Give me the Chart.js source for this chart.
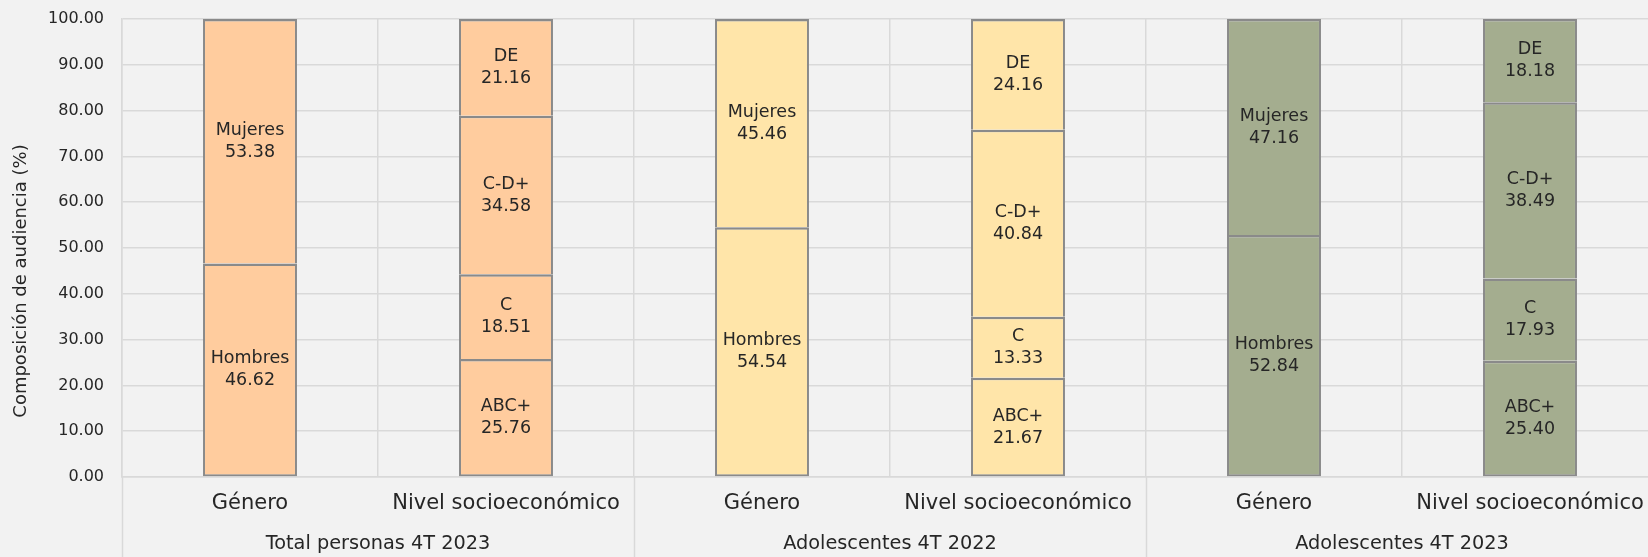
<!DOCTYPE html>
<html>
<head>
<meta charset="utf-8">
<script src="https://cdn.jsdelivr.net/npm/chart.js@4.4.1/dist/chart.umd.min.js"></script>
<style>
  html, body { margin: 0; padding: 0; background: #F2F2F2; overflow: hidden; }
  #wrap { position: relative; width: 1658px; height: 557px; }
</style>
</head>
<body>
<div id="wrap"><canvas id="c"></canvas></div>
<script>
const categories = ['Género', 'Nivel socioeconómico', 'Género', 'Nivel socioeconómico', 'Género', 'Nivel socioeconómico'];
const groups = ['Total personas 4T 2023', 'Adolescentes 4T 2022', 'Adolescentes 4T 2023'];
const generoNames = ['Hombres', 'Mujeres'];
const nseNames = ['ABC+', 'C', 'C-D+', 'DE'];
const seg1 = [46.62, 25.76, 54.54, 21.67, 52.84, 25.40];
const seg2 = [53.38, 18.51, 45.46, 13.33, 47.16, 17.93];
const seg3 = [null, 34.58, null, 40.84, null, 38.49];
const seg4 = [null, 21.16, null, 24.16, null, 18.18];
const yTitle = 'Composición de audiencia (%)';
const groupColors = ['#FFCC9E', '#FFE5A9', '#A4AD8F'];

const FONT = '"DejaVu Sans", sans-serif';
const TEXT = '#262626';
const GRID = '#D9D9D9';

const segs = [seg1, seg2, seg3, seg4];
const datasets = segs.map((d, k) => ({
  data: d,
  segIndex: k,
  backgroundColor: categories.map((c, i) => groupColors[Math.floor(i / 2)]),
  borderColor: '#8A8A8A',
  borderWidth: { top: 2.5, bottom: k === 0 ? 2 : 0, left: 2, right: 2 },
  borderSkipped: false,
  barPercentage: 0.367,
  categoryPercentage: 1.0
}));

const segName = (catIdx, k) => (catIdx % 2 === 0 ? generoNames[k] : nseNames[k]);

const labelsPlugin = {
  id: 'labelsPlugin',
  afterDatasetsDraw(chart) {
    const ctx = chart.ctx;
    ctx.save();
    ctx.fillStyle = TEXT;
    ctx.textAlign = 'center';
    ctx.textBaseline = 'middle';
    ctx.font = '17.5px ' + FONT;
    chart.data.datasets.forEach((ds, di) => {
      const meta = chart.getDatasetMeta(di);
      meta.data.forEach((el, i) => {
        const v = ds.data[i];
        if (v === null || v === undefined) return;
        const cy = (el.y + el.base) / 2;
        ctx.fillText(segName(i, ds.segIndex), el.x, cy - 11);
        ctx.fillText(v.toFixed(2), el.x, cy + 11);
      });
    });
    ctx.restore();
  },
  afterDraw(chart) {
    const ctx = chart.ctx;
    const xs = chart.scales.x;
    const area = chart.chartArea;
    const H = chart.height;
    ctx.save();
    ctx.strokeStyle = GRID;
    ctx.lineWidth = 1.5;
    const half = (xs.getPixelForValue(1) - xs.getPixelForValue(0)) / 2;
    const seps = [xs.getPixelForValue(0) - half];
    for (let g = 0; g < groups.length; g++) seps.push(xs.getPixelForValue(2 * g + 1) + half);
    seps.forEach(x => {
      ctx.beginPath();
      ctx.moveTo(Math.round(x) + 0.5, area.bottom);
      ctx.lineTo(Math.round(x) + 0.5, H);
      ctx.stroke();
    });
    ctx.fillStyle = TEXT;
    ctx.textAlign = 'center';
    ctx.textBaseline = 'middle';
    ctx.font = '21px ' + FONT;
    categories.forEach((c, i) => ctx.fillText(c, xs.getPixelForValue(i), area.bottom + 27));
    ctx.font = '19.3px ' + FONT;
    groups.forEach((g, j) => {
      const cx = (xs.getPixelForValue(2 * j) + xs.getPixelForValue(2 * j + 1)) / 2;
      ctx.fillText(g, cx, area.bottom + 67);
    });
    ctx.font = '18px ' + FONT;
    ctx.translate(21, 281);
    ctx.rotate(-Math.PI / 2);
    ctx.fillText(yTitle, 0, 0);
    ctx.restore();
  }
};

new Chart(document.getElementById('c'), {
  type: 'bar',
  data: { labels: categories, datasets },
  options: {
    responsive: true,
    maintainAspectRatio: false,
    animation: false,
    layout: { padding: { top: 19, left: 0, right: 0, bottom: 0 } },
    plugins: { legend: { display: false }, tooltip: { enabled: false } },
    scales: {
      x: {
        stacked: true,
        afterFit(s) { s.height = 80; },
        ticks: { display: false },
        grid: { color: GRID, lineWidth: 1.5, offset: true, drawTicks: false },
        border: { color: GRID, width: 1.5 }
      },
      y: {
        stacked: true,
        min: 0, max: 100,
        afterFit(s) { s.width = 122; s.paddingTop = 0; s.paddingBottom = 0; },
        ticks: {
          stepSize: 10,
          padding: 18,
          color: TEXT,
          font: { family: FONT, size: 16 },
          callback: v => Number(v).toFixed(2)
        },
        grid: { color: GRID, lineWidth: 1.5, drawTicks: false },
        border: { color: GRID, width: 1.5 }
      }
    }
  },
  plugins: [labelsPlugin]
});
</script>
</body>
</html>
